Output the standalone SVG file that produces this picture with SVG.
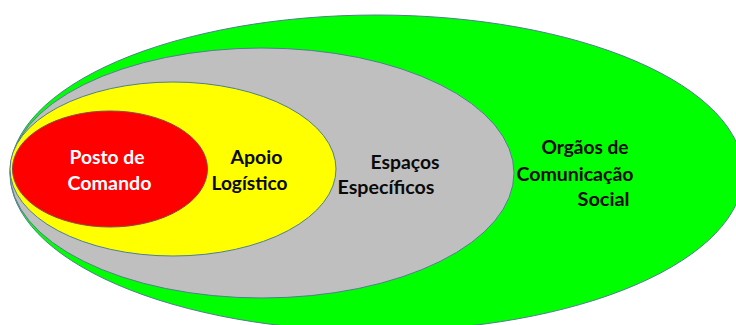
<svg xmlns="http://www.w3.org/2000/svg" width="736" height="325" viewBox="0 0 736 325">
<style>
.e{stroke:#4f7f8f;stroke-width:1}
.t{font-family:Lato,"Open Sans","Liberation Sans",Arial,sans-serif;font-weight:700;font-size:18px;fill:#0a0a0a}
</style>
<rect width="736" height="325" fill="#fff"/>
<g id="orgaos">
<ellipse class="e" cx="376.7" cy="173" rx="366.7" ry="158" fill="#00ff00"/>
<text class="t" x="541.5" y="154" textLength="87" lengthAdjust="spacingAndGlyphs">Orgãos de</text>
<text class="t" x="516.5" y="181" textLength="117" lengthAdjust="spacingAndGlyphs">Comunicação</text>
<text class="t" x="577.5" y="206" textLength="52" lengthAdjust="spacingAndGlyphs">Social</text>
</g>
<g id="espacos">
<ellipse class="e" cx="262" cy="173" rx="252" ry="125" fill="#bfbfbf"/>
<text class="t" x="370.5" y="169" textLength="69" lengthAdjust="spacingAndGlyphs">Espaços</text>
<text class="t" x="337.5" y="194" textLength="97" lengthAdjust="spacingAndGlyphs">Específicos</text>
</g>
<g id="apoio">
<ellipse class="e" cx="173" cy="169" rx="163" ry="87" fill="#ffff00"/>
<text class="t" x="230.5" y="164" textLength="52" lengthAdjust="spacingAndGlyphs">Apoio</text>
<text class="t" x="211.5" y="190" textLength="76" lengthAdjust="spacingAndGlyphs">Logístico</text>
</g>
<g id="posto">
<ellipse cx="110" cy="169" rx="97.5" ry="58" fill="#ff0000" stroke="#8a4a4a" stroke-width="1"/>
<text class="t" x="69.5" y="164" textLength="75" lengthAdjust="spacingAndGlyphs" style="fill:#fff">Posto de</text>
<text class="t" x="67.5" y="190" textLength="84" lengthAdjust="spacingAndGlyphs" style="fill:#fff">Comando</text>
</g>
<g id="connectors"/>
</svg>
